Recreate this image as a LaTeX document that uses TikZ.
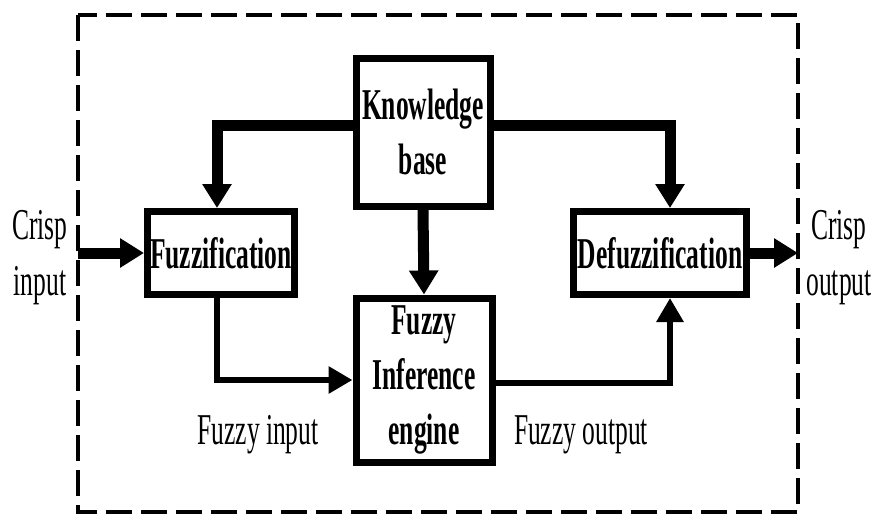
\documentclass[tikz,border=0pt]{standalone}
\usepackage{fontspec}
\setmainfont[FakeStretch=0.58]{Liberation Serif}
\usetikzlibrary{arrows.meta}

\begin{document}
\begin{tikzpicture}[x=1pt,y=-1pt,
    every node/.style={font=\fontsize{44}{56}\selectfont,align=center,inner sep=0pt},
    block/.style={draw,line width=7pt,font=\fontsize{44}{55}\selectfont\bfseries},
    link/.style={line width=11pt,-{Triangle[length=24pt,width=28pt]}},
    thinlink/.style={line width=6.5pt,-{Triangle[length=24pt,width=26pt]}}]
    \useasboundingbox (0,0) rectangle (876,515);
    \draw[line width=4pt,dash pattern=on 26pt off 9pt] (78,15) rectangle (798,512);
    \node[block,minimum width=134pt,minimum height=148pt] (kb) at (423,132) {Knowledge\\base};
    \node[block,minimum width=147pt,minimum height=83pt] (fuzz) at (221,253) {Fuzzification};
    \node[block,minimum width=136pt,minimum height=164pt] (inf) at (424,380) {Fuzzy\\Inference\\engine};
    \node[block,minimum width=173pt,minimum height=83pt] (defuzz) at (660,253) {Defuzzification};
    \coordinate (in) at (78,253);
    \coordinate (out) at (798,253);
    \node (crispin) at (40,258) {Crisp\\input};
    \node (crispout) at (839,258) {Crisp\\output};
    \node (fin) at (258,435) {Fuzzy input};
    \node (fout) at (581,435) {Fuzzy output};
    \draw[link] ([yshift=7pt]kb.west) -| ([xshift=-4pt]fuzz.north);
    \draw[link] ([yshift=7pt]kb.east) -| ([xshift=10pt]defuzz.north);
    \draw[link] (kb.south) -- (inf.north);
    \draw[link] (in) -- (fuzz.west);
    \draw[link] (defuzz.east) -- (out);
    \draw[thinlink] ([xshift=-4pt]fuzz.south) |- (inf.west);
    \draw[thinlink] ([yshift=-3pt]inf.east) -| ([xshift=10pt]defuzz.south);
\end{tikzpicture}
\end{document}
